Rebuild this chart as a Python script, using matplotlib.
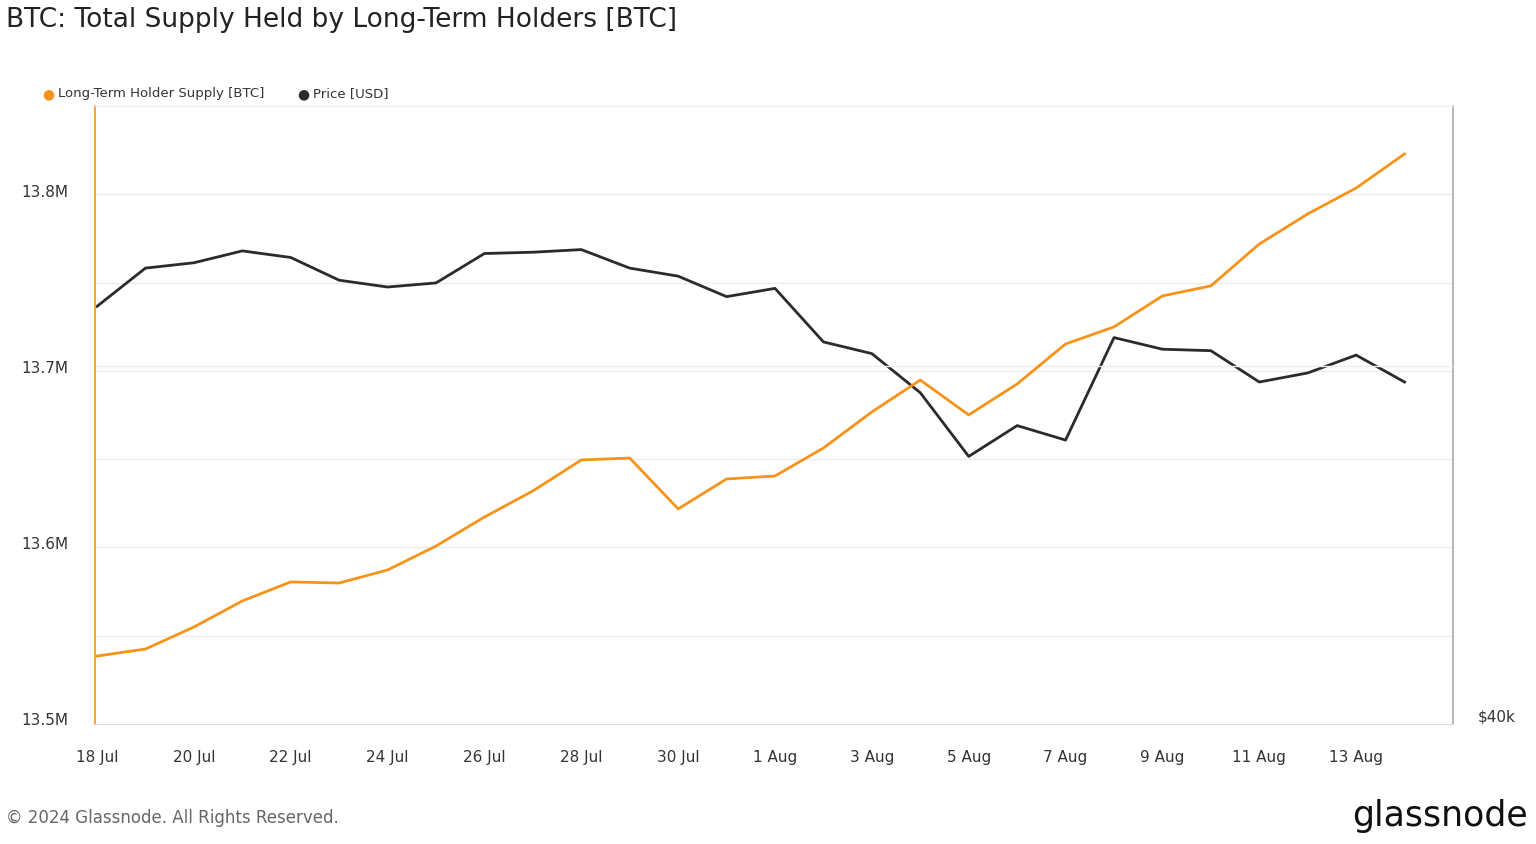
import matplotlib.pyplot as plt
import numpy as np
import pandas as pd

dates = pd.date_range("2024-07-18", "2024-08-14", freq="D")
lth_supply = [13.5352, 13.5392, 13.5517, 13.5665, 13.5773, 13.5767, 13.5841, 13.5977,
              13.6142, 13.6290, 13.6466, 13.6477, 13.6188, 13.6358, 13.6375, 13.6534,
              13.6739, 13.6920, 13.6722, 13.6898, 13.7125, 13.7222, 13.7398, 13.7455,
              13.7693, 13.7864, 13.8011, 13.8205]  # millions BTC
price = [63.9, 66.7, 67.1, 68.0, 67.5, 65.8, 65.3, 65.6, 67.8, 67.9, 68.1, 66.7, 66.1,
         64.6, 65.2, 61.4, 60.6, 58.0, 54.0, 55.9, 55.0, 61.7, 60.9, 60.8, 58.7, 59.3,
         60.5, 58.7]  # thousands USD
left_ticks = [13.5, 13.6, 13.7, 13.8]
left_labels = ["13.5M", "13.6M", "13.7M", "13.8M"]
tick_dates = pd.date_range("2024-07-18", "2024-08-13", freq="2D")

orange = "#f7931a"
dark = "#2b2b2b"

fig = plt.figure(figsize=(15.36, 8.45), dpi=100)
ax = fig.add_axes([95/1536, 120/845, 1358/1536, 618/845])
ax2 = ax.twinx()

ax2.set_yscale("log")
ax2.set_ylim(40, 80)
grid_vals = [40 * 2 ** (k / 7) for k in range(1, 7)]
for g in grid_vals:
    ax2.axhline(g, color="#ececec", lw=1, zorder=0)
ax2.plot(dates, price, color=dark, lw=2)
ax2.set_yticks([40])
ax2.set_yticklabels(["$40k"])
ax2.yaxis.set_minor_locator(plt.NullLocator())
ax2.tick_params(axis="y", length=0, labelsize=11, colors="#333333", pad=18)
for lab in ax2.get_yticklabels():
    lab.set_verticalalignment("bottom")

ax.set_ylim(13.4966, 13.8477)
ax.axhline(13.7, color="#ececec", lw=1, zorder=0)
ax.plot(dates, lth_supply, color=orange, lw=2, zorder=3)
ax.set_zorder(ax2.get_zorder() + 1)
ax.patch.set_visible(False)
ax.set_yticks(left_ticks)
ax.set_yticklabels(left_labels)
ax.tick_params(axis="y", length=0, labelsize=11, colors="#333333", pad=19)
ax.set_xlim(dates[0] - pd.Timedelta(hours=1), dates[0] + pd.Timedelta(days=28))
ax.set_xticks(tick_dates)
ax.set_xticklabels([d.strftime("%-d %b") for d in tick_dates])
ax.tick_params(axis="x", length=0, labelsize=11, colors="#333333", pad=18)

for a in (ax, ax2):
    for s in a.spines.values():
        s.set_visible(False)
ax.spines["left"].set_visible(True)
ax.spines["left"].set_color(orange)
ax.spines["left"].set_linewidth(1.2)
ax2.spines["right"].set_visible(True)
ax2.spines["right"].set_color("#aaaaaa")
ax2.spines["right"].set_linewidth(1.2)
ax.spines["bottom"].set_visible(True)
ax.spines["bottom"].set_color("#dddddd")
ax.spines["top"].set_visible(True)
ax.spines["top"].set_color("#eeeeee")

fig.text(6/1536, 1 - 20/845, "BTC: Total Supply Held by Long-Term Holders [BTC]",
         fontsize=19, va="center", color="#222222")
fig.text(42/1536, 1 - 94/845, "●", color=orange, fontsize=10, va="center")
fig.text(58/1536, 1 - 94/845, "Long-Term Holder Supply [BTC]", fontsize=9.5, va="center", color="#333333")
fig.text(297/1536, 1 - 94/845, "●", color=dark, fontsize=10, va="center")
fig.text(313/1536, 1 - 94/845, "Price [USD]", fontsize=9.5, va="center", color="#333333")
fig.text(6/1536, 1 - 818/845, "© 2024 Glassnode. All Rights Reserved.", fontsize=12,
         va="center", color="#666666")
fig.text(1528/1536, 1 - 816/845, "glassnode", fontsize=25, va="center", ha="right",
         color="#111111", fontweight="medium")

fig.savefig("out.png", dpi=100)
